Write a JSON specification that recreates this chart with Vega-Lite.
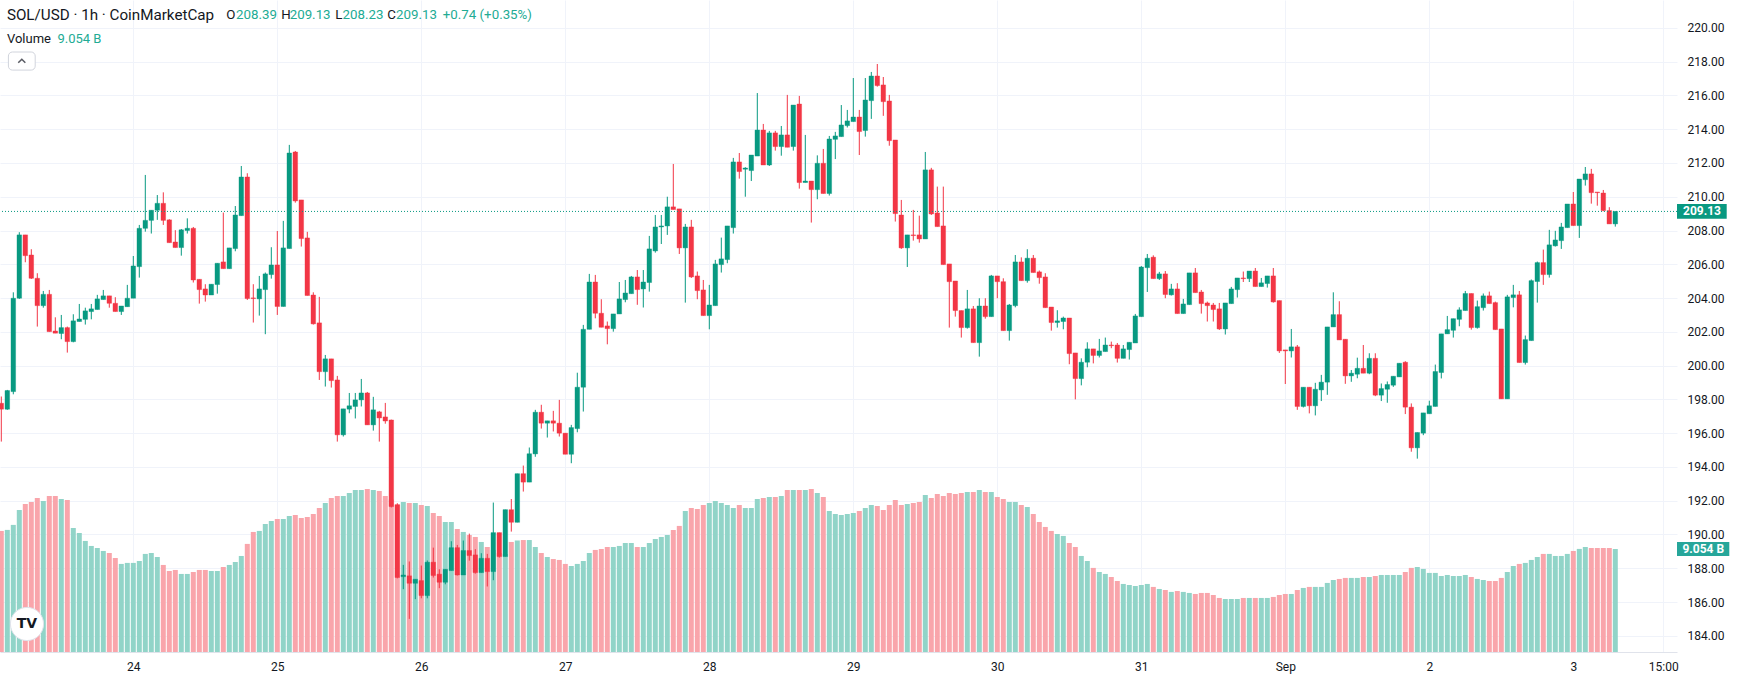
{
  "$schema": "https://vega.github.io/schema/vega-lite/v6.json",
  "width": 1677,
  "height": 652,
  "autosize": {"type": "none"},
  "padding": {"left": 0, "top": 0, "right": 69, "bottom": 39},
  "background": "#ffffff",
  "config": {
    "view": {"stroke": null},
    "font": "Roboto",
    "scale": {"continuousPadding": 0},
    "axis": {"labelFont": "Roboto", "labelFontSize": 12, "labelColor": "#131722", "gridColor": "#f0f3fa", "gridWidth": 1, "ticks": false, "domain": false, "title": null}
  },
  "datasets": {
    "latest": [{"o": 208.39, "h": 209.13, "l": 208.23, "c": 209.13, "chg": "+0.74 (+0.35%)", "v": 9.054, "vlabel": "9.054 B", "symbol": "SOL/USD · 1h · CoinMarketCap"}],
    "candles": [
      {"t":"2025-08-23T02:00","o":197.77,"h":198.17,"l":195.5,"c":197.42,"v":10.64},
      {"t":"2025-08-23T03:00","o":197.42,"h":198.56,"l":197.38,"c":198.52,"v":10.73},
      {"t":"2025-08-23T04:00","o":198.46,"h":204.34,"l":198.3,"c":203.99,"v":11.17},
      {"t":"2025-08-23T05:00","o":203.99,"h":207.9,"l":203.95,"c":207.74,"v":12.48},
      {"t":"2025-08-23T06:00","o":207.74,"h":207.74,"l":206.12,"c":206.51,"v":13.01},
      {"t":"2025-08-23T07:00","o":206.55,"h":206.89,"l":205.13,"c":205.17,"v":13.19},
      {"t":"2025-08-23T08:00","o":205.17,"h":205.47,"l":202.31,"c":203.55,"v":13.54},
      {"t":"2025-08-23T09:00","o":203.55,"h":204.42,"l":203.43,"c":204.22,"v":13.28},
      {"t":"2025-08-23T10:00","o":204.22,"h":204.48,"l":202.01,"c":202.01,"v":13.71},
      {"t":"2025-08-23T11:00","o":202.05,"h":202.86,"l":201.92,"c":201.92,"v":13.71},
      {"t":"2025-08-23T12:00","o":201.9,"h":203.0,"l":201.56,"c":202.25,"v":13.45},
      {"t":"2025-08-23T13:00","o":202.25,"h":202.31,"l":200.77,"c":201.42,"v":13.36},
      {"t":"2025-08-23T14:00","o":201.42,"h":203.04,"l":201.38,"c":202.65,"v":10.9},
      {"t":"2025-08-23T15:00","o":202.61,"h":203.65,"l":202.61,"c":202.76,"v":10.46},
      {"t":"2025-08-23T16:00","o":202.74,"h":203.43,"l":202.43,"c":203.24,"v":9.76},
      {"t":"2025-08-23T17:00","o":203.2,"h":203.65,"l":202.74,"c":203.36,"v":9.32},
      {"t":"2025-08-23T18:00","o":203.32,"h":204.19,"l":203.32,"c":203.95,"v":9.14},
      {"t":"2025-08-23T19:00","o":203.91,"h":204.48,"l":203.91,"c":204.13,"v":8.88},
      {"t":"2025-08-23T20:00","o":204.13,"h":204.13,"l":203.43,"c":203.69,"v":8.7},
      {"t":"2025-08-23T21:00","o":203.69,"h":204.05,"l":203.2,"c":203.2,"v":8.26},
      {"t":"2025-08-23T22:00","o":203.2,"h":203.53,"l":203.0,"c":203.53,"v":7.74},
      {"t":"2025-08-23T23:00","o":203.49,"h":204.78,"l":203.49,"c":203.99,"v":7.83},
      {"t":"2025-08-24T00:00","o":203.99,"h":206.49,"l":203.99,"c":205.9,"v":7.83},
      {"t":"2025-08-24T01:00","o":205.86,"h":208.33,"l":205.21,"c":208.13,"v":8.0},
      {"t":"2025-08-24T02:00","o":208.13,"h":211.29,"l":207.93,"c":208.6,"v":8.62},
      {"t":"2025-08-24T03:00","o":208.6,"h":209.2,"l":207.82,"c":209.2,"v":8.7},
      {"t":"2025-08-24T04:00","o":209.2,"h":210.1,"l":208.63,"c":209.61,"v":8.35},
      {"t":"2025-08-24T05:00","o":209.61,"h":210.26,"l":208.33,"c":208.6,"v":7.65},
      {"t":"2025-08-24T06:00","o":208.63,"h":208.67,"l":207.28,"c":207.28,"v":7.12},
      {"t":"2025-08-24T07:00","o":207.32,"h":208.02,"l":206.99,"c":206.99,"v":7.21},
      {"t":"2025-08-24T08:00","o":206.99,"h":208.09,"l":206.51,"c":208.04,"v":6.86},
      {"t":"2025-08-24T09:00","o":208.0,"h":208.72,"l":207.82,"c":208.13,"v":6.86},
      {"t":"2025-08-24T10:00","o":208.13,"h":208.21,"l":204.92,"c":205.07,"v":7.03},
      {"t":"2025-08-24T11:00","o":205.11,"h":205.11,"l":203.67,"c":204.5,"v":7.21},
      {"t":"2025-08-24T12:00","o":204.54,"h":204.82,"l":203.79,"c":204.18,"v":7.21},
      {"t":"2025-08-24T13:00","o":204.18,"h":204.82,"l":204.18,"c":204.82,"v":7.12},
      {"t":"2025-08-24T14:00","o":204.8,"h":206.06,"l":204.26,"c":206.06,"v":7.12},
      {"t":"2025-08-24T15:00","o":206.14,"h":209.06,"l":205.74,"c":205.74,"v":7.47},
      {"t":"2025-08-24T16:00","o":205.74,"h":206.97,"l":205.74,"c":206.97,"v":7.65},
      {"t":"2025-08-24T17:00","o":206.93,"h":209.45,"l":206.77,"c":208.92,"v":7.91},
      {"t":"2025-08-24T18:00","o":208.88,"h":211.82,"l":208.88,"c":211.17,"v":8.44},
      {"t":"2025-08-24T19:00","o":211.17,"h":211.39,"l":203.89,"c":203.97,"v":9.5},
      {"t":"2025-08-24T20:00","o":204.01,"h":204.82,"l":202.55,"c":203.97,"v":10.55},
      {"t":"2025-08-24T21:00","o":203.95,"h":205.31,"l":202.96,"c":204.54,"v":10.64},
      {"t":"2025-08-24T22:00","o":204.5,"h":205.51,"l":201.86,"c":205.43,"v":11.25},
      {"t":"2025-08-24T23:00","o":205.39,"h":207.01,"l":205.15,"c":205.96,"v":11.52},
      {"t":"2025-08-25T00:00","o":205.96,"h":207.97,"l":203.0,"c":203.5,"v":11.69},
      {"t":"2025-08-25T01:00","o":203.5,"h":208.57,"l":203.5,"c":206.97,"v":11.69},
      {"t":"2025-08-25T02:00","o":206.93,"h":213.07,"l":206.93,"c":212.59,"v":11.96},
      {"t":"2025-08-25T03:00","o":212.65,"h":212.71,"l":209.65,"c":209.75,"v":12.04},
      {"t":"2025-08-25T04:00","o":209.81,"h":209.81,"l":207.05,"c":207.52,"v":11.78},
      {"t":"2025-08-25T05:00","o":207.56,"h":207.92,"l":204.15,"c":204.15,"v":11.87},
      {"t":"2025-08-25T06:00","o":204.18,"h":204.34,"l":202.43,"c":202.47,"v":12.13},
      {"t":"2025-08-25T07:00","o":202.53,"h":204.07,"l":199.15,"c":199.64,"v":12.66},
      {"t":"2025-08-25T08:00","o":199.64,"h":200.63,"l":198.76,"c":200.4,"v":13.1},
      {"t":"2025-08-25T09:00","o":200.4,"h":200.4,"l":198.7,"c":199.11,"v":13.54},
      {"t":"2025-08-25T10:00","o":199.15,"h":199.39,"l":195.5,"c":195.9,"v":13.71},
      {"t":"2025-08-25T11:00","o":195.9,"h":197.44,"l":195.8,"c":197.44,"v":13.71},
      {"t":"2025-08-25T12:00","o":197.42,"h":198.38,"l":197.18,"c":197.62,"v":13.98},
      {"t":"2025-08-25T13:00","o":197.58,"h":198.38,"l":196.87,"c":197.97,"v":14.24},
      {"t":"2025-08-25T14:00","o":197.97,"h":199.21,"l":197.58,"c":198.38,"v":14.24},
      {"t":"2025-08-25T15:00","o":198.38,"h":198.44,"l":196.49,"c":196.49,"v":14.33},
      {"t":"2025-08-25T16:00","o":196.49,"h":198.15,"l":196.15,"c":197.38,"v":14.24},
      {"t":"2025-08-25T17:00","o":197.26,"h":197.32,"l":195.5,"c":196.9,"v":14.15},
      {"t":"2025-08-25T18:00","o":196.96,"h":197.79,"l":196.56,"c":196.72,"v":13.71},
      {"t":"2025-08-25T19:00","o":196.78,"h":196.8,"l":191.6,"c":191.65,"v":13.4},
      {"t":"2025-08-25T20:00","o":191.75,"h":191.85,"l":187.4,"c":187.45,"v":13.01},
      {"t":"2025-08-25T21:00","o":187.5,"h":188.2,"l":186.76,"c":187.6,"v":13.19},
      {"t":"2025-08-25T22:00","o":187.55,"h":188.4,"l":185.0,"c":187.11,"v":13.1},
      {"t":"2025-08-25T23:00","o":187.11,"h":187.35,"l":186.17,"c":187.35,"v":13.1},
      {"t":"2025-08-26T00:00","o":187.27,"h":188.16,"l":186.22,"c":186.38,"v":12.92},
      {"t":"2025-08-26T01:00","o":186.38,"h":188.46,"l":186.22,"c":188.36,"v":12.83},
      {"t":"2025-08-26T02:00","o":188.36,"h":189.22,"l":187.45,"c":187.57,"v":12.22},
      {"t":"2025-08-26T03:00","o":187.65,"h":187.94,"l":186.82,"c":187.17,"v":11.95},
      {"t":"2025-08-26T04:00","o":187.17,"h":187.94,"l":187.05,"c":187.94,"v":11.43},
      {"t":"2025-08-26T05:00","o":187.86,"h":189.6,"l":187.86,"c":189.22,"v":11.43},
      {"t":"2025-08-26T06:00","o":189.22,"h":189.38,"l":187.57,"c":187.6,"v":10.81},
      {"t":"2025-08-26T07:00","o":187.6,"h":189.64,"l":187.6,"c":189.05,"v":10.55},
      {"t":"2025-08-26T08:00","o":189.05,"h":190.05,"l":188.45,"c":188.75,"v":10.28},
      {"t":"2025-08-26T09:00","o":188.79,"h":189.13,"l":187.68,"c":187.74,"v":10.11},
      {"t":"2025-08-26T10:00","o":187.74,"h":188.89,"l":187.74,"c":188.59,"v":9.67},
      {"t":"2025-08-26T11:00","o":188.59,"h":188.85,"l":186.92,"c":187.8,"v":9.23},
      {"t":"2025-08-26T12:00","o":187.8,"h":191.89,"l":187.29,"c":190.11,"v":8.97},
      {"t":"2025-08-26T13:00","o":190.11,"h":190.11,"l":188.63,"c":188.69,"v":8.7},
      {"t":"2025-08-26T14:00","o":188.69,"h":191.47,"l":188.69,"c":191.47,"v":8.61},
      {"t":"2025-08-26T15:00","o":191.47,"h":192.1,"l":190.17,"c":190.72,"v":9.67},
      {"t":"2025-08-26T16:00","o":190.72,"h":193.6,"l":190.72,"c":193.6,"v":9.8},
      {"t":"2025-08-26T17:00","o":193.6,"h":194.08,"l":192.54,"c":193.1,"v":9.84},
      {"t":"2025-08-26T18:00","o":193.1,"h":195.15,"l":193.1,"c":194.78,"v":9.84},
      {"t":"2025-08-26T19:00","o":194.77,"h":197.38,"l":194.6,"c":197.24,"v":9.23},
      {"t":"2025-08-26T20:00","o":197.24,"h":197.68,"l":196.27,"c":196.59,"v":8.7},
      {"t":"2025-08-26T21:00","o":196.59,"h":196.73,"l":195.74,"c":196.73,"v":8.35},
      {"t":"2025-08-26T22:00","o":196.73,"h":197.32,"l":196.1,"c":196.59,"v":8.17},
      {"t":"2025-08-26T23:00","o":196.59,"h":197.97,"l":195.8,"c":196.0,"v":8.09},
      {"t":"2025-08-27T00:00","o":196.0,"h":196.0,"l":194.75,"c":194.75,"v":7.74},
      {"t":"2025-08-27T01:00","o":194.75,"h":196.49,"l":194.22,"c":196.33,"v":7.56},
      {"t":"2025-08-27T02:00","o":196.27,"h":199.58,"l":196.05,"c":198.72,"v":7.74},
      {"t":"2025-08-27T03:00","o":198.72,"h":202.41,"l":197.28,"c":202.15,"v":8.0},
      {"t":"2025-08-27T04:00","o":202.15,"h":205.43,"l":202.15,"c":204.95,"v":8.7},
      {"t":"2025-08-27T05:00","o":204.95,"h":205.37,"l":202.8,"c":203.1,"v":8.97},
      {"t":"2025-08-27T06:00","o":203.1,"h":203.93,"l":202.27,"c":202.27,"v":9.05},
      {"t":"2025-08-27T07:00","o":202.35,"h":202.61,"l":201.26,"c":202.19,"v":9.23},
      {"t":"2025-08-27T08:00","o":202.19,"h":203.06,"l":202.01,"c":203.06,"v":9.23},
      {"t":"2025-08-27T09:00","o":203.06,"h":204.95,"l":203.06,"c":203.95,"v":9.32},
      {"t":"2025-08-27T10:00","o":203.91,"h":205.07,"l":203.75,"c":204.3,"v":9.58},
      {"t":"2025-08-27T11:00","o":204.26,"h":205.31,"l":204.26,"c":205.25,"v":9.58},
      {"t":"2025-08-27T12:00","o":205.25,"h":205.66,"l":203.6,"c":204.5,"v":9.23},
      {"t":"2025-08-27T13:00","o":204.54,"h":205.66,"l":203.44,"c":204.95,"v":9.23},
      {"t":"2025-08-27T14:00","o":204.92,"h":207.68,"l":204.38,"c":206.91,"v":9.58},
      {"t":"2025-08-27T15:00","o":206.79,"h":208.92,"l":206.69,"c":208.21,"v":9.93},
      {"t":"2025-08-27T16:00","o":208.21,"h":208.92,"l":207.2,"c":208.27,"v":10.11},
      {"t":"2025-08-27T17:00","o":208.27,"h":210.0,"l":207.74,"c":209.4,"v":10.28},
      {"t":"2025-08-27T18:00","o":209.4,"h":211.94,"l":209.24,"c":209.24,"v":10.72},
      {"t":"2025-08-27T19:00","o":209.28,"h":209.28,"l":206.61,"c":206.97,"v":11.08},
      {"t":"2025-08-27T20:00","o":206.97,"h":208.39,"l":203.73,"c":208.21,"v":12.39},
      {"t":"2025-08-27T21:00","o":208.21,"h":208.63,"l":205.19,"c":205.25,"v":12.66},
      {"t":"2025-08-27T22:00","o":205.31,"h":205.57,"l":203.93,"c":204.44,"v":12.57},
      {"t":"2025-08-27T23:00","o":204.48,"h":205.07,"l":202.96,"c":202.96,"v":12.92},
      {"t":"2025-08-28T00:00","o":202.96,"h":204.78,"l":202.15,"c":203.59,"v":13.1},
      {"t":"2025-08-28T01:00","o":203.55,"h":206.26,"l":203.55,"c":206.02,"v":13.27},
      {"t":"2025-08-28T02:00","o":205.98,"h":207.58,"l":205.51,"c":206.32,"v":13.1},
      {"t":"2025-08-28T03:00","o":206.28,"h":208.27,"l":206.06,"c":208.27,"v":12.92},
      {"t":"2025-08-28T04:00","o":208.17,"h":212.3,"l":207.82,"c":212.06,"v":12.66},
      {"t":"2025-08-28T05:00","o":212.06,"h":212.59,"l":211.07,"c":211.49,"v":12.92},
      {"t":"2025-08-28T06:00","o":211.63,"h":211.75,"l":210.0,"c":211.7,"v":12.66},
      {"t":"2025-08-28T07:00","o":211.55,"h":212.47,"l":210.93,"c":212.47,"v":12.66},
      {"t":"2025-08-28T08:00","o":212.41,"h":216.14,"l":212.41,"c":213.95,"v":13.45},
      {"t":"2025-08-28T09:00","o":213.95,"h":214.31,"l":211.88,"c":211.88,"v":13.54},
      {"t":"2025-08-28T10:00","o":211.88,"h":213.9,"l":211.82,"c":213.78,"v":13.62},
      {"t":"2025-08-28T11:00","o":213.78,"h":213.9,"l":212.73,"c":212.97,"v":13.62},
      {"t":"2025-08-28T12:00","o":212.97,"h":214.19,"l":212.43,"c":213.66,"v":13.71},
      {"t":"2025-08-28T13:00","o":213.66,"h":216.03,"l":212.93,"c":212.93,"v":14.24},
      {"t":"2025-08-28T14:00","o":212.97,"h":215.43,"l":212.73,"c":215.43,"v":14.24},
      {"t":"2025-08-28T15:00","o":215.49,"h":215.97,"l":210.48,"c":210.84,"v":14.24},
      {"t":"2025-08-28T16:00","o":210.84,"h":213.66,"l":210.84,"c":210.93,"v":14.24},
      {"t":"2025-08-28T17:00","o":210.93,"h":210.93,"l":208.47,"c":210.42,"v":14.33},
      {"t":"2025-08-28T18:00","o":210.42,"h":212.45,"l":209.85,"c":211.98,"v":13.98},
      {"t":"2025-08-28T19:00","o":211.98,"h":212.83,"l":210.19,"c":210.19,"v":13.63},
      {"t":"2025-08-28T20:00","o":210.19,"h":213.6,"l":210.07,"c":213.42,"v":12.4},
      {"t":"2025-08-28T21:00","o":213.4,"h":213.84,"l":212.23,"c":213.6,"v":12.13},
      {"t":"2025-08-28T22:00","o":213.56,"h":215.43,"l":213.56,"c":214.25,"v":12.04},
      {"t":"2025-08-28T23:00","o":214.21,"h":215.14,"l":214.1,"c":214.49,"v":12.13},
      {"t":"2025-08-29T00:00","o":214.45,"h":217.03,"l":214.45,"c":214.72,"v":12.22},
      {"t":"2025-08-29T01:00","o":214.72,"h":215.14,"l":212.47,"c":213.86,"v":12.4},
      {"t":"2025-08-29T02:00","o":213.92,"h":217.03,"l":213.56,"c":215.73,"v":12.66},
      {"t":"2025-08-29T03:00","o":215.69,"h":217.39,"l":214.61,"c":217.15,"v":12.92},
      {"t":"2025-08-29T04:00","o":217.15,"h":217.86,"l":216.52,"c":216.58,"v":12.84},
      {"t":"2025-08-29T05:00","o":216.62,"h":217.09,"l":214.79,"c":215.63,"v":12.48},
      {"t":"2025-08-29T06:00","o":215.67,"h":216.03,"l":213.02,"c":213.32,"v":12.92},
      {"t":"2025-08-29T07:00","o":213.36,"h":213.36,"l":208.53,"c":209.0,"v":13.36},
      {"t":"2025-08-29T08:00","o":208.92,"h":209.81,"l":206.91,"c":206.97,"v":12.92},
      {"t":"2025-08-29T09:00","o":206.97,"h":207.74,"l":205.84,"c":207.74,"v":13.01},
      {"t":"2025-08-29T10:00","o":207.74,"h":209.22,"l":207.4,"c":207.7,"v":13.1},
      {"t":"2025-08-29T11:00","o":207.74,"h":208.88,"l":207.28,"c":207.5,"v":13.19},
      {"t":"2025-08-29T12:00","o":207.5,"h":212.65,"l":207.5,"c":211.59,"v":13.8},
      {"t":"2025-08-29T13:00","o":211.59,"h":211.71,"l":208.92,"c":208.98,"v":13.54},
      {"t":"2025-08-29T14:00","o":209.04,"h":210.6,"l":208.23,"c":208.23,"v":13.89},
      {"t":"2025-08-29T15:00","o":208.27,"h":210.6,"l":205.98,"c":205.98,"v":13.71},
      {"t":"2025-08-29T16:00","o":206.02,"h":206.02,"l":202.25,"c":204.97,"v":13.98},
      {"t":"2025-08-29T17:00","o":205.01,"h":205.01,"l":202.9,"c":203.26,"v":13.89},
      {"t":"2025-08-29T18:00","o":203.26,"h":203.26,"l":201.66,"c":202.25,"v":13.98},
      {"t":"2025-08-29T19:00","o":202.25,"h":204.48,"l":202.19,"c":203.36,"v":14.07},
      {"t":"2025-08-29T20:00","o":203.36,"h":203.53,"l":201.36,"c":201.36,"v":14.07},
      {"t":"2025-08-29T21:00","o":201.36,"h":203.99,"l":200.53,"c":203.53,"v":14.24},
      {"t":"2025-08-29T22:00","o":203.53,"h":203.99,"l":202.78,"c":202.9,"v":14.07},
      {"t":"2025-08-29T23:00","o":202.9,"h":205.37,"l":202.9,"c":205.31,"v":14.07},
      {"t":"2025-08-30T00:00","o":205.31,"h":205.31,"l":203.99,"c":204.97,"v":13.63},
      {"t":"2025-08-30T01:00","o":204.97,"h":205.17,"l":202.07,"c":202.07,"v":13.45},
      {"t":"2025-08-30T02:00","o":202.07,"h":203.65,"l":201.48,"c":203.59,"v":13.19},
      {"t":"2025-08-30T03:00","o":203.55,"h":206.55,"l":203.45,"c":206.14,"v":13.19},
      {"t":"2025-08-30T04:00","o":206.14,"h":206.41,"l":205.03,"c":205.03,"v":12.92},
      {"t":"2025-08-30T05:00","o":205.03,"h":206.89,"l":204.91,"c":206.36,"v":12.75},
      {"t":"2025-08-30T06:00","o":206.36,"h":206.55,"l":205.51,"c":205.51,"v":12.13},
      {"t":"2025-08-30T07:00","o":205.55,"h":205.63,"l":204.85,"c":205.21,"v":11.43},
      {"t":"2025-08-30T08:00","o":205.25,"h":205.47,"l":203.43,"c":203.43,"v":10.99},
      {"t":"2025-08-30T09:00","o":203.47,"h":203.47,"l":202.07,"c":202.55,"v":10.64},
      {"t":"2025-08-30T10:00","o":202.55,"h":203.28,"l":202.25,"c":202.65,"v":10.37},
      {"t":"2025-08-30T11:00","o":202.61,"h":202.9,"l":202.15,"c":202.82,"v":10.2},
      {"t":"2025-08-30T12:00","o":202.82,"h":202.82,"l":200.08,"c":200.71,"v":9.58},
      {"t":"2025-08-30T13:00","o":200.75,"h":200.75,"l":198.0,"c":199.23,"v":9.23},
      {"t":"2025-08-30T14:00","o":199.23,"h":200.43,"l":198.83,"c":200.2,"v":8.44},
      {"t":"2025-08-30T15:00","o":200.2,"h":201.38,"l":199.9,"c":200.99,"v":8.0},
      {"t":"2025-08-30T16:00","o":200.99,"h":200.99,"l":200.13,"c":200.6,"v":7.39},
      {"t":"2025-08-30T17:00","o":200.6,"h":201.58,"l":200.48,"c":200.87,"v":7.03},
      {"t":"2025-08-30T18:00","o":200.83,"h":201.66,"l":200.83,"c":201.22,"v":6.86},
      {"t":"2025-08-30T19:00","o":201.22,"h":201.42,"l":201.03,"c":201.18,"v":6.59},
      {"t":"2025-08-30T20:00","o":201.22,"h":201.34,"l":200.18,"c":200.43,"v":6.24},
      {"t":"2025-08-30T21:00","o":200.43,"h":201.22,"l":200.43,"c":200.99,"v":5.98},
      {"t":"2025-08-30T22:00","o":200.95,"h":201.38,"l":200.36,"c":201.38,"v":5.89},
      {"t":"2025-08-30T23:00","o":201.34,"h":203.06,"l":201.34,"c":202.94,"v":5.8},
      {"t":"2025-08-31T00:00","o":202.9,"h":205.9,"l":202.9,"c":205.84,"v":5.89},
      {"t":"2025-08-31T01:00","o":205.8,"h":206.61,"l":204.36,"c":206.36,"v":5.98},
      {"t":"2025-08-31T02:00","o":206.42,"h":206.53,"l":205.15,"c":205.15,"v":5.72},
      {"t":"2025-08-31T03:00","o":205.15,"h":205.55,"l":205.07,"c":205.43,"v":5.54},
      {"t":"2025-08-31T04:00","o":205.43,"h":205.6,"l":203.99,"c":204.21,"v":5.45},
      {"t":"2025-08-31T05:00","o":204.19,"h":204.84,"l":204.15,"c":204.54,"v":5.28},
      {"t":"2025-08-31T06:00","o":204.54,"h":204.88,"l":203.08,"c":203.08,"v":5.36},
      {"t":"2025-08-31T07:00","o":203.08,"h":203.95,"l":203.08,"c":203.65,"v":5.28},
      {"t":"2025-08-31T08:00","o":203.61,"h":205.49,"l":203.61,"c":205.49,"v":5.19},
      {"t":"2025-08-31T09:00","o":205.49,"h":205.78,"l":204.32,"c":204.32,"v":5.1},
      {"t":"2025-08-31T10:00","o":204.36,"h":204.48,"l":203.08,"c":203.67,"v":5.19},
      {"t":"2025-08-31T11:00","o":203.71,"h":203.79,"l":202.61,"c":203.55,"v":5.19},
      {"t":"2025-08-31T12:00","o":203.59,"h":203.71,"l":202.61,"c":203.32,"v":5.01},
      {"t":"2025-08-31T13:00","o":203.36,"h":203.71,"l":202.11,"c":202.17,"v":4.75},
      {"t":"2025-08-31T14:00","o":202.17,"h":203.71,"l":201.84,"c":203.71,"v":4.66},
      {"t":"2025-08-31T15:00","o":203.67,"h":204.66,"l":203.67,"c":204.54,"v":4.66},
      {"t":"2025-08-31T16:00","o":204.5,"h":205.19,"l":204.03,"c":205.19,"v":4.66},
      {"t":"2025-08-31T17:00","o":205.19,"h":205.57,"l":204.95,"c":205.15,"v":4.75},
      {"t":"2025-08-31T18:00","o":205.15,"h":205.6,"l":204.95,"c":205.6,"v":4.75},
      {"t":"2025-08-31T19:00","o":205.6,"h":205.78,"l":204.68,"c":204.68,"v":4.75},
      {"t":"2025-08-31T20:00","o":204.68,"h":205.19,"l":204.68,"c":204.9,"v":4.75},
      {"t":"2025-08-31T21:00","o":204.86,"h":205.31,"l":204.62,"c":205.31,"v":4.75},
      {"t":"2025-08-31T22:00","o":205.31,"h":205.78,"l":203.73,"c":203.77,"v":4.84},
      {"t":"2025-08-31T23:00","o":203.85,"h":203.85,"l":200.75,"c":200.87,"v":5.01},
      {"t":"2025-09-01T00:00","o":200.93,"h":200.93,"l":198.91,"c":200.87,"v":5.1},
      {"t":"2025-09-01T01:00","o":200.87,"h":202.17,"l":200.48,"c":201.11,"v":5.1},
      {"t":"2025-09-01T02:00","o":201.11,"h":201.22,"l":197.38,"c":197.58,"v":5.45},
      {"t":"2025-09-01T03:00","o":197.58,"h":198.72,"l":197.52,"c":198.72,"v":5.63},
      {"t":"2025-09-01T04:00","o":198.72,"h":198.72,"l":197.17,"c":197.62,"v":5.72},
      {"t":"2025-09-01T05:00","o":197.62,"h":198.98,"l":197.05,"c":198.6,"v":5.72},
      {"t":"2025-09-01T06:00","o":198.56,"h":199.45,"l":197.9,"c":199.02,"v":5.72},
      {"t":"2025-09-01T07:00","o":199.02,"h":202.29,"l":198.27,"c":202.29,"v":6.07},
      {"t":"2025-09-01T08:00","o":202.29,"h":204.34,"l":202.29,"c":203.02,"v":6.33},
      {"t":"2025-09-01T09:00","o":203.02,"h":203.81,"l":201.52,"c":201.52,"v":6.42},
      {"t":"2025-09-01T10:00","o":201.56,"h":201.56,"l":198.92,"c":199.39,"v":6.51},
      {"t":"2025-09-01T11:00","o":199.39,"h":199.74,"l":199.04,"c":199.55,"v":6.51},
      {"t":"2025-09-01T12:00","o":199.49,"h":200.47,"l":199.25,"c":199.84,"v":6.51},
      {"t":"2025-09-01T13:00","o":199.84,"h":201.22,"l":199.55,"c":199.55,"v":6.59},
      {"t":"2025-09-01T14:00","o":199.55,"h":200.73,"l":199.49,"c":200.43,"v":6.59},
      {"t":"2025-09-01T15:00","o":200.43,"h":200.73,"l":198.19,"c":198.25,"v":6.68},
      {"t":"2025-09-01T16:00","o":198.25,"h":198.94,"l":197.9,"c":198.64,"v":6.77},
      {"t":"2025-09-01T17:00","o":198.6,"h":199.06,"l":197.8,"c":198.88,"v":6.77},
      {"t":"2025-09-01T18:00","o":198.84,"h":199.37,"l":198.74,"c":199.37,"v":6.77},
      {"t":"2025-09-01T19:00","o":199.33,"h":200.14,"l":199.33,"c":200.14,"v":6.77},
      {"t":"2025-09-01T20:00","o":200.2,"h":200.26,"l":197.13,"c":197.54,"v":7.03},
      {"t":"2025-09-01T21:00","o":197.54,"h":197.76,"l":194.9,"c":195.13,"v":7.39},
      {"t":"2025-09-01T22:00","o":195.13,"h":196.04,"l":194.49,"c":196.04,"v":7.47},
      {"t":"2025-09-01T23:00","o":196.0,"h":197.2,"l":195.88,"c":197.2,"v":7.3},
      {"t":"2025-09-02T00:00","o":197.15,"h":197.92,"l":197.15,"c":197.62,"v":6.95},
      {"t":"2025-09-02T01:00","o":197.58,"h":200.06,"l":197.58,"c":199.65,"v":6.95},
      {"t":"2025-09-02T02:00","o":199.59,"h":201.88,"l":199.24,"c":201.88,"v":6.68},
      {"t":"2025-09-02T03:00","o":201.88,"h":202.94,"l":201.88,"c":202.13,"v":6.77},
      {"t":"2025-09-02T04:00","o":202.09,"h":202.78,"l":201.66,"c":202.78,"v":6.68},
      {"t":"2025-09-02T05:00","o":202.74,"h":203.45,"l":202.33,"c":203.3,"v":6.68},
      {"t":"2025-09-02T06:00","o":203.26,"h":204.42,"l":203.26,"c":204.27,"v":6.77},
      {"t":"2025-09-02T07:00","o":204.27,"h":204.27,"l":202.13,"c":202.25,"v":6.59},
      {"t":"2025-09-02T08:00","o":202.25,"h":203.85,"l":202.19,"c":203.49,"v":6.42},
      {"t":"2025-09-02T09:00","o":203.43,"h":204.27,"l":203.26,"c":204.13,"v":6.33},
      {"t":"2025-09-02T10:00","o":204.13,"h":204.38,"l":203.67,"c":203.67,"v":6.24},
      {"t":"2025-09-02T11:00","o":203.73,"h":203.79,"l":202.13,"c":202.13,"v":6.24},
      {"t":"2025-09-02T12:00","o":202.17,"h":202.17,"l":198.03,"c":198.03,"v":6.51},
      {"t":"2025-09-02T13:00","o":198.03,"h":204.19,"l":198.03,"c":204.07,"v":7.03},
      {"t":"2025-09-02T14:00","o":204.03,"h":204.78,"l":203.45,"c":204.19,"v":7.56},
      {"t":"2025-09-02T15:00","o":204.19,"h":204.42,"l":200.18,"c":200.18,"v":7.74},
      {"t":"2025-09-02T16:00","o":200.18,"h":201.78,"l":200.06,"c":201.54,"v":7.83},
      {"t":"2025-09-02T17:00","o":201.48,"h":205.1,"l":201.48,"c":205.03,"v":8.09},
      {"t":"2025-09-02T18:00","o":204.98,"h":206.16,"l":203.73,"c":206.1,"v":8.35},
      {"t":"2025-09-02T19:00","o":206.1,"h":206.87,"l":204.78,"c":205.39,"v":8.62},
      {"t":"2025-09-02T20:00","o":205.39,"h":208.04,"l":205.21,"c":207.15,"v":8.62},
      {"t":"2025-09-02T21:00","o":207.09,"h":207.98,"l":207.05,"c":207.44,"v":8.44},
      {"t":"2025-09-02T22:00","o":207.4,"h":208.45,"l":206.91,"c":208.21,"v":8.44},
      {"t":"2025-09-02T23:00","o":208.17,"h":209.57,"l":208.17,"c":209.57,"v":8.62},
      {"t":"2025-09-03T00:00","o":209.57,"h":210.28,"l":208.29,"c":208.29,"v":8.88},
      {"t":"2025-09-03T01:00","o":208.29,"h":211.05,"l":207.56,"c":211.05,"v":9.06},
      {"t":"2025-09-03T02:00","o":211.01,"h":211.76,"l":210.66,"c":211.35,"v":9.23},
      {"t":"2025-09-03T03:00","o":211.35,"h":211.65,"l":209.59,"c":210.24,"v":9.14},
      {"t":"2025-09-03T04:00","o":210.28,"h":210.28,"l":209.47,"c":210.24,"v":9.14},
      {"t":"2025-09-03T05:00","o":210.22,"h":210.4,"l":209.14,"c":209.18,"v":9.14},
      {"t":"2025-09-03T06:00","o":209.18,"h":209.38,"l":208.39,"c":208.39,"v":9.14},
      {"t":"2025-09-03T07:00","o":208.39,"h":209.13,"l":208.23,"c":209.13,"v":9.054}
    ]
  },
  "layer": [
    {
      "layer": [
        {
          "data": {"name": "candles"},
          "mark": {"type": "bar", "width": 5},
          "encoding": {
            "x": {
              "field": "t", "type": "temporal",
              "scale": {"padding": 0, "domain": [{"year": 2025, "month": 8, "date": 23, "hours": 1, "minutes": 47}, {"year": 2025, "month": 9, "date": 3, "hours": 17, "minutes": 17}]},
              "axis": {
                "orient": "bottom", "grid": true, "domain": true, "domainColor": "#e0e3eb", "labelPadding": 9, "labelOverlap": false, "tickCount": 40,
                "values": [
                  {"year": 2025, "month": 8, "date": 24}, {"year": 2025, "month": 8, "date": 25}, {"year": 2025, "month": 8, "date": 26},
                  {"year": 2025, "month": 8, "date": 27}, {"year": 2025, "month": 8, "date": 28}, {"year": 2025, "month": 8, "date": 29},
                  {"year": 2025, "month": 8, "date": 30}, {"year": 2025, "month": 8, "date": 31}, {"year": 2025, "month": 9, "date": 1},
                  {"year": 2025, "month": 9, "date": 2}, {"year": 2025, "month": 9, "date": 3}, {"year": 2025, "month": 9, "date": 3, "hours": 15}
                ],
                "labelExpr": "hours(datum.value) == 15 ? '15:00' : (date(datum.value) == 1 ? 'Sep' : '' + date(datum.value))"
              }
            },
            "y": {"field": "v", "type": "quantitative", "stack": null, "scale": {"domain": [0, 57.3], "nice": false, "zero": true}, "axis": null},
            "color": {"condition": {"test": "datum.c >= datum.o", "value": "#91d4c8"}, "value": "#f9a5ab"}
          }
        },
        {
          "data": {"name": "latest"},
          "mark": {"type": "rect", "color": "#26a69a"},
          "encoding": {
            "x": {"datum": {"year": 2025, "month": 9, "date": 3, "hours": 17, "minutes": 17}},
            "x2": {"datum": {"year": 2025, "month": 9, "date": 4, "hours": 2, "minutes": 0}},
            "y": {"datum": 8.44},
            "y2": {"datum": 9.67}
          }
        },
        {
          "data": {"name": "latest"},
          "mark": {"type": "text", "color": "#ffffff", "fontSize": 12, "fontWeight": "bold", "align": "center", "baseline": "middle"},
          "encoding": {
            "x": {"datum": {"year": 2025, "month": 9, "date": 3, "hours": 21, "minutes": 40}},
            "y": {"field": "v", "type": "quantitative"},
            "text": {"field": "vlabel"}
          }
        }
      ]
    },
    {
      "layer": [
        {
          "data": {"name": "candles"},
          "mark": {"type": "rule", "strokeWidth": 1},
          "encoding": {
            "x": {"field": "t", "type": "temporal"},
            "y": {"field": "l", "type": "quantitative", "scale": {"domain": [183.04, 221.65], "nice": false, "zero": false},
              "axis": {"orient": "right", "grid": true, "tickCount": 40, "values": [184, 186, 188, 190, 192, 194, 196, 198, 200, 202, 204, 206, 208, 210, 212, 214, 216, 218, 220], "format": ".2f", "labelPadding": 10, "labelAlign": "left", "labelBaseline": "middle", "labelOverlap": false}},
            "y2": {"field": "h"},
            "color": {"condition": {"test": "datum.c >= datum.o", "value": "#089981"}, "value": "#f23645"}
          }
        },
        {
          "data": {"name": "candles"},
          "mark": {"type": "bar", "width": 4.6, "strokeWidth": 0.4},
          "encoding": {
            "x": {"field": "t", "type": "temporal"},
            "y": {"field": "o", "type": "quantitative"},
            "y2": {"field": "c"},
            "color": {"condition": {"test": "datum.c >= datum.o", "value": "#089981"}, "value": "#f23645"},
            "stroke": {"condition": {"test": "datum.c >= datum.o", "value": "#089981"}, "value": "#f23645"}
          }
        },
        {
          "data": {"name": "latest"},
          "mark": {"type": "rule", "color": "#089981", "strokeWidth": 1, "strokeDash": [1, 2]},
          "encoding": {"y": {"field": "c", "type": "quantitative"}}
        },
        {
          "data": {"name": "latest"},
          "mark": {"type": "rect", "color": "#089981"},
          "encoding": {
            "x": {"datum": {"year": 2025, "month": 9, "date": 3, "hours": 17, "minutes": 17}},
            "x2": {"datum": {"year": 2025, "month": 9, "date": 4, "hours": 1, "minutes": 34}},
            "y": {"datum": 208.69},
            "y2": {"datum": 209.57}
          }
        },
        {
          "data": {"name": "latest"},
          "mark": {"type": "text", "color": "#ffffff", "fontSize": 12, "fontWeight": "bold", "align": "center", "baseline": "middle"},
          "encoding": {
            "x": {"datum": {"year": 2025, "month": 9, "date": 3, "hours": 21, "minutes": 27}},
            "y": {"field": "c", "type": "quantitative"},
            "text": {"field": "c", "type": "quantitative", "format": ".2f"}
          }
        },
        {
          "data": {"name": "latest"},
          "mark": {"type": "text", "color": "#131722", "fontSize": 15.2, "align": "left", "baseline": "middle"},
          "encoding": {
            "x": {"datum": {"year": 2025, "month": 8, "date": 23, "hours": 2, "minutes": 56}},
            "y": {"datum": 220.76},
            "text": {"field": "symbol"}
          }
        },
        {
          "data": {"name": "latest"},
          "mark": {"type": "text", "color": "#131722", "fontSize": 13.3, "align": "left", "baseline": "middle"},
          "encoding": {
            "x": {"datum": {"year": 2025, "month": 8, "date": 24, "hours": 15, "minutes": 30}},
            "y": {"datum": 220.76},
            "text": {"value": "O"}
          }
        },
        {
          "data": {"name": "latest"},
          "mark": {"type": "text", "color": "#22ab94", "fontSize": 13.3, "align": "left", "baseline": "middle"},
          "encoding": {
            "x": {"datum": {"year": 2025, "month": 8, "date": 24, "hours": 17, "minutes": 8}},
            "y": {"datum": 220.76},
            "text": {"field": "o", "type": "quantitative", "format": ".2f"}
          }
        },
        {
          "data": {"name": "latest"},
          "mark": {"type": "text", "color": "#131722", "fontSize": 13.3, "align": "left", "baseline": "middle"},
          "encoding": {
            "x": {"datum": {"year": 2025, "month": 8, "date": 25, "hours": 0, "minutes": 40}},
            "y": {"datum": 220.76},
            "text": {"value": "H"}
          }
        },
        {
          "data": {"name": "latest"},
          "mark": {"type": "text", "color": "#22ab94", "fontSize": 13.3, "align": "left", "baseline": "middle"},
          "encoding": {
            "x": {"datum": {"year": 2025, "month": 8, "date": 25, "hours": 2, "minutes": 4}},
            "y": {"datum": 220.76},
            "text": {"field": "h", "type": "quantitative", "format": ".2f"}
          }
        },
        {
          "data": {"name": "latest"},
          "mark": {"type": "text", "color": "#131722", "fontSize": 13.3, "align": "left", "baseline": "middle"},
          "encoding": {
            "x": {"datum": {"year": 2025, "month": 8, "date": 25, "hours": 9, "minutes": 40}},
            "y": {"datum": 220.76},
            "text": {"value": "L"}
          }
        },
        {
          "data": {"name": "latest"},
          "mark": {"type": "text", "color": "#22ab94", "fontSize": 13.3, "align": "left", "baseline": "middle"},
          "encoding": {
            "x": {"datum": {"year": 2025, "month": 8, "date": 25, "hours": 10, "minutes": 52}},
            "y": {"datum": 220.76},
            "text": {"field": "l", "type": "quantitative", "format": ".2f"}
          }
        },
        {
          "data": {"name": "latest"},
          "mark": {"type": "text", "color": "#131722", "fontSize": 13.3, "align": "left", "baseline": "middle"},
          "encoding": {
            "x": {"datum": {"year": 2025, "month": 8, "date": 25, "hours": 18, "minutes": 20}},
            "y": {"datum": 220.76},
            "text": {"value": "C"}
          }
        },
        {
          "data": {"name": "latest"},
          "mark": {"type": "text", "color": "#22ab94", "fontSize": 13.3, "align": "left", "baseline": "middle"},
          "encoding": {
            "x": {"datum": {"year": 2025, "month": 8, "date": 25, "hours": 19, "minutes": 47}},
            "y": {"datum": 220.76},
            "text": {"field": "c", "type": "quantitative", "format": ".2f"}
          }
        },
        {
          "data": {"name": "latest"},
          "mark": {"type": "text", "color": "#22ab94", "fontSize": 13.3, "align": "left", "baseline": "middle"},
          "encoding": {
            "x": {"datum": {"year": 2025, "month": 8, "date": 26, "hours": 3, "minutes": 35}},
            "y": {"datum": 220.76},
            "text": {"field": "chg"}
          }
        },
        {
          "data": {"name": "latest"},
          "mark": {"type": "text", "color": "#131722", "fontSize": 13, "align": "left", "baseline": "middle"},
          "encoding": {
            "x": {"datum": {"year": 2025, "month": 8, "date": 23, "hours": 2, "minutes": 56}},
            "y": {"datum": 219.32},
            "text": {"value": "Volume"}
          }
        },
        {
          "data": {"name": "latest"},
          "mark": {"type": "text", "color": "#22ab94", "fontSize": 13, "align": "left", "baseline": "middle"},
          "encoding": {
            "x": {"datum": {"year": 2025, "month": 8, "date": 23, "hours": 11, "minutes": 21}},
            "y": {"datum": 219.32},
            "text": {"field": "vlabel"}
          }
        },
        {
          "data": {"name": "latest"},
          "mark": {"type": "rect", "fill": "#ffffff", "stroke": "#d1d4dc", "strokeWidth": 1, "cornerRadius": 4},
          "encoding": {
            "x": {"datum": {"year": 2025, "month": 8, "date": 23, "hours": 3, "minutes": 11}},
            "x2": {"datum": {"year": 2025, "month": 8, "date": 23, "hours": 7, "minutes": 39}},
            "y": {"datum": 218.57},
            "y2": {"datum": 217.5}
          }
        },
        {
          "data": {"name": "latest"},
          "mark": {"type": "point", "shape": "M-1,0.5L0,-0.5L1,0.5", "filled": false, "stroke": "#131722", "strokeWidth": 1.5, "size": 50},
          "encoding": {
            "x": {"datum": {"year": 2025, "month": 8, "date": 23, "hours": 5, "minutes": 25}},
            "y": {"datum": 218.04}
          }
        },
        {
          "data": {"name": "latest"},
          "mark": {"type": "point", "shape": "circle", "filled": true, "fill": "#ffffff", "stroke": "#e0e3eb", "strokeWidth": 1, "size": 1100, "opacity": 1},
          "encoding": {
            "x": {"datum": {"year": 2025, "month": 8, "date": 23, "hours": 6, "minutes": 17}},
            "y": {"datum": 184.7}
          }
        },
        {
          "data": {"name": "latest"},
          "mark": {"type": "text", "color": "#131722", "fontSize": 14, "fontWeight": 900, "font": "DejaVu Sans", "align": "center", "baseline": "middle"},
          "encoding": {
            "x": {"datum": {"year": 2025, "month": 8, "date": 23, "hours": 6, "minutes": 17}},
            "y": {"datum": 184.7},
            "text": {"value": "TV"}
          }
        }
      ]
    }
  ],
  "resolve": {"scale": {"y": "independent"}}
}
